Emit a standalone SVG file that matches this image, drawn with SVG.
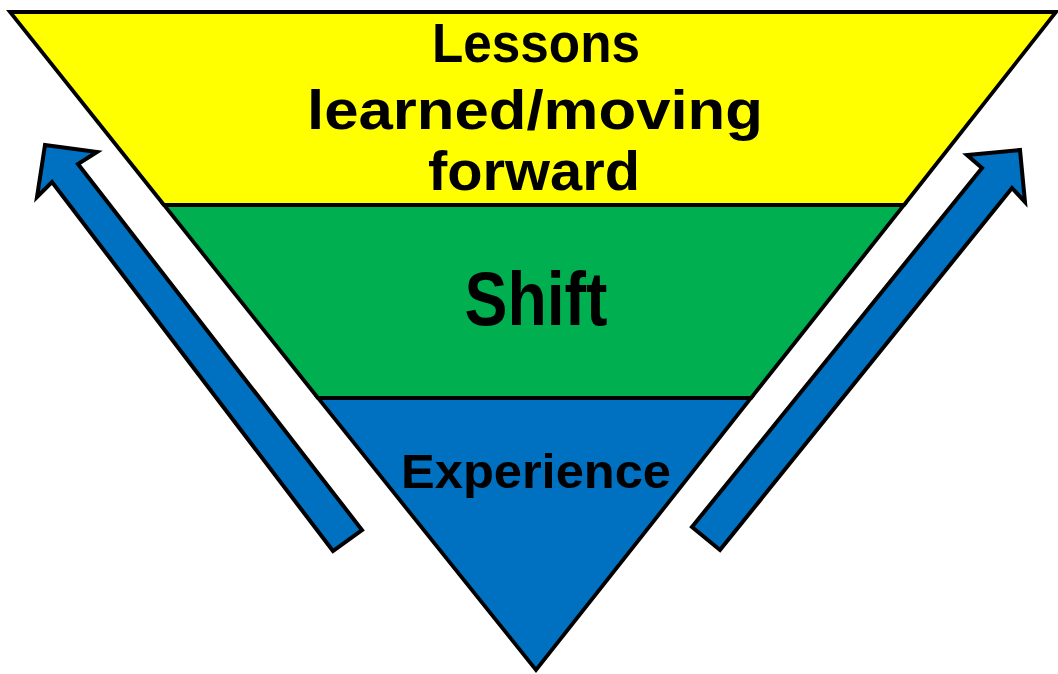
<svg xmlns="http://www.w3.org/2000/svg" width="1058" height="674" viewBox="0 0 1058 674">
<style>
.band{stroke:#000;stroke-width:3.8;stroke-linejoin:miter}
.arrow{fill:#0070C0;stroke:#000;stroke-width:4;stroke-linejoin:miter}
.lbl{font-family:"Liberation Sans",Arial,sans-serif;font-weight:bold;fill:#000;text-anchor:middle}
</style>
<rect width="1058" height="674" fill="#fff"/>
<g id="lessons">
<polygon class="band" fill="#FFFF00" points="10,12 1056,12 904,205 164,205"/>
<text class="lbl" font-size="56" x="536" y="62" textLength="208" lengthAdjust="spacingAndGlyphs">Lessons</text>
<text class="lbl" font-size="56" x="535" y="129" textLength="456" lengthAdjust="spacingAndGlyphs">learned/moving</text>
<text class="lbl" font-size="56" x="534" y="190" textLength="212" lengthAdjust="spacingAndGlyphs">forward</text>
</g>
<g id="shift">
<polygon class="band" fill="#00B050" points="164,205 904,205 751,398 318,398"/>
<text class="lbl" font-size="76" x="536" y="325" textLength="143" lengthAdjust="spacingAndGlyphs">Shift</text>
</g>
<g id="experience">
<polygon class="band" fill="#0070C0" points="318,398 751,398 536,670"/>
<text class="lbl" font-size="48" x="536" y="488" textLength="270" lengthAdjust="spacingAndGlyphs">Experience</text>
</g>
<g id="connectors">
<polygon class="arrow" points="45,145 97,152 78,164 362,530 333,551 52,182 37,197"/>
<polygon class="arrow" points="1020,150 967,155 982,168 692,527 720,550 1012,188 1025,202"/>
</g>
</svg>
